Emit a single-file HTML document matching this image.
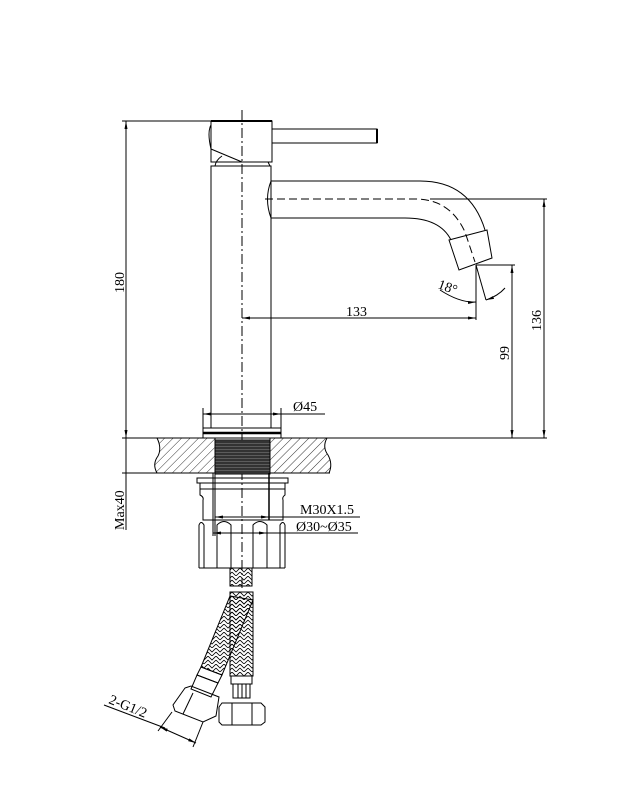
<!DOCTYPE html>
<html><head><meta charset="utf-8"><style>
html,body{margin:0;padding:0;background:#fff;}
svg{display:block;}
text{font-family:"Liberation Serif",serif;fill:#000;}
</style></head><body>
<svg width="625" height="802" viewBox="0 0 625 802" xmlns="http://www.w3.org/2000/svg">
<defs>
<pattern id="h" width="6" height="6" patternUnits="userSpaceOnUse" patternTransform="rotate(45)">
<line x1="0" y1="0" x2="0" y2="6" stroke="#000" stroke-width="0.8"/>
</pattern>
<pattern id="br" width="8" height="8" patternUnits="userSpaceOnUse">
<path d="M0 0 L4 4 L8 0 M0 4 L4 8 L8 4" fill="none" stroke="#000" stroke-width="0.8"/>
</pattern>
<pattern id="th" width="4" height="3" patternUnits="userSpaceOnUse">
<rect width="4" height="3" fill="#333"/><line x1="0" y1="2.5" x2="4" y2="2.5" stroke="#777" stroke-width="0.6"/>
</pattern>
<marker id="a" markerWidth="8" markerHeight="6" refX="8" refY="3" orient="auto-start-reverse" markerUnits="userSpaceOnUse">
<path d="M0 1.5 L8 3 L0 4.5 Z" fill="#000"/>
</marker>
</defs>
<g stroke="#000" stroke-width="1" fill="none">
<line x1="242" y1="110" x2="242" y2="590" stroke-dasharray="10 3 2 3"/>
<rect x="211" y="121" width="61" height="41"/>
<line x1="211" y1="121" x2="272" y2="121" stroke-width="2"/>
<path d="M211 125 Q207 132 211 149"/>
<rect x="272" y="129" width="105" height="14"/>
<line x1="377" y1="129" x2="377" y2="143" stroke-width="2"/>
<path d="M211 149 L242 162"/>
<path d="M222 156 Q216 160 215 166 M268 162 L270 166"/>
<rect x="211" y="166" width="60" height="262"/>
<path d="M271 181 L420 181 Q470 181 485 230"/>
<path d="M271 218 L405 218 Q440 218 451 240"/>
<path d="M271 181 Q264 199 271 218"/>
<path d="M265 199 L415 199 Q450 199 465 232 L475 262" stroke-dasharray="8 4"/>
<path d="M449 240 L487 230 L492 258 L459 270 Z"/>
<line x1="476" y1="265" x2="486" y2="300"/>
<path d="M440 290 Q460 303 476 302" marker-end="url(#a)"/>
<path d="M486 300 Q498 296 505 288" marker-start="url(#a)"/>
<line x1="122" y1="121" x2="211" y2="121"/>
<line x1="126" y1="121" x2="126" y2="438" marker-start="url(#a)" marker-end="url(#a)"/>
<line x1="430" y1="199" x2="547" y2="199"/>
<line x1="544" y1="199" x2="544" y2="438" marker-start="url(#a)" marker-end="url(#a)"/>
<line x1="476" y1="265" x2="515" y2="265"/>
<line x1="512" y1="265" x2="512" y2="438" marker-start="url(#a)" marker-end="url(#a)"/>
<line x1="476" y1="265" x2="476" y2="320"/>
<line x1="242" y1="318" x2="476" y2="318" marker-start="url(#a)" marker-end="url(#a)"/>
<rect x="203" y="428" width="78" height="10"/>
<line x1="203" y1="433" x2="281" y2="433" stroke-width="2.5"/>
<line x1="203" y1="414" x2="281" y2="414" marker-start="url(#a)" marker-end="url(#a)"/>
<line x1="281" y1="414" x2="325" y2="414"/>
<line x1="203" y1="408" x2="203" y2="428"/><line x1="281" y1="408" x2="281" y2="428"/>
<line x1="122" y1="438" x2="547" y2="438"/>
<line x1="122" y1="473" x2="330" y2="473"/>
<path d="M157 438 L215 438 L215 473 L157 473 Q152 464 158 456 Q162 448 157 438 Z" fill="url(#h)"/>
<path d="M270 438 L327 438 Q322 447 328 455 Q333 464 329 473 L270 473 Z" fill="url(#h)"/>
<rect x="215" y="440" width="55" height="34" fill="url(#th)"/>
<line x1="126" y1="438" x2="126" y2="530" />
<rect x="197" y="478" width="91" height="5"/>
<path d="M200 483 L285 483 L285 495 Q282 497 283 500 L283 520 L203 520 L203 500 Q204 497 200 495 Z"/>
<line x1="200" y1="489" x2="285" y2="489"/>
<path d="M199 568 L199 525 Q201 520 204 525 L204 568"/>
<path d="M280 568 L280 525 Q283 520 285 525 L285 568"/>
<path d="M217 568 L217 525 Q224 518 231 525 L231 568"/>
<path d="M253 568 L253 525 Q260 518 267 525 L267 568"/>
<line x1="199" y1="568" x2="285" y2="568"/>
<line x1="215" y1="473" x2="215" y2="536"/>
<line x1="269" y1="473" x2="269" y2="520" stroke-width="1.5"/>
<line x1="213" y1="473" x2="213" y2="536"/>
<line x1="215" y1="517" x2="360" y2="517" marker-start="url(#a)"/>
<line x1="242" y1="517" x2="269" y2="517" marker-end="url(#a)"/>
<line x1="213" y1="533" x2="358" y2="533" marker-start="url(#a)"/>
<line x1="240" y1="533" x2="267" y2="533" marker-end="url(#a)"/>
<rect x="230" y="568" width="22" height="18" fill="url(#br)"/>
<rect x="230" y="592" width="23" height="84" fill="url(#br)"/>
<rect x="231" y="676" width="21" height="8"/>
<rect x="233" y="684" width="17" height="14"/>
<line x1="238" y1="684" x2="238" y2="698"/><line x1="242" y1="684" x2="242" y2="698"/><line x1="246" y1="684" x2="246" y2="698"/>
<path d="M219 707 L222 703 L261 703 L265 707 L265 722 L261 725 L222 725 L219 722 Z"/>
<line x1="232" y1="703" x2="232" y2="725"/><line x1="252" y1="703" x2="252" y2="725"/>
<path d="M230 596 L253 600 L222 675 L201 667 Z" fill="url(#br)"/>
<path d="M201 667 L222 675 L218 683 L197 675 Z"/>
<path d="M197 675 L218 683 L211 697 L191 689 Z"/>
<path d="M185 688 L191 686 L219 697 L216 716 L203 722 L175 711 L173 705 Z"/>
<line x1="193" y1="693" x2="183" y2="714"/>
<line x1="104" y1="705" x2="165" y2="728"/>
<line x1="160" y1="727" x2="196" y2="743" marker-start="url(#a)" marker-end="url(#a)"/>
<line x1="172" y1="712" x2="158" y2="731"/>
<line x1="203" y1="722" x2="193" y2="747"/>
</g>
<text x="0" y="0" font-size="14" transform="translate(124,293) rotate(-90)">180</text>
<text x="0" y="0" font-size="14" transform="translate(541,331) rotate(-90)">136</text>
<text x="0" y="0" font-size="14" transform="translate(509,360) rotate(-90)">99</text>
<text x="0" y="0" font-size="14" transform="translate(124,530) rotate(-90)">Max40</text>
<text x="346" y="316" font-size="14">133</text>
<text x="293" y="411" font-size="14">Ø45</text>
<text x="300" y="514" font-size="14">M30X1.5</text>
<text x="296" y="531" font-size="14">Ø30~Ø35</text>
<text x="0" y="0" font-size="14" transform="translate(437,288) rotate(20)">18°</text>
<text x="0" y="0" font-size="14" transform="translate(108,703) rotate(22)">2-G1/2</text>
</svg>
</body></html>
